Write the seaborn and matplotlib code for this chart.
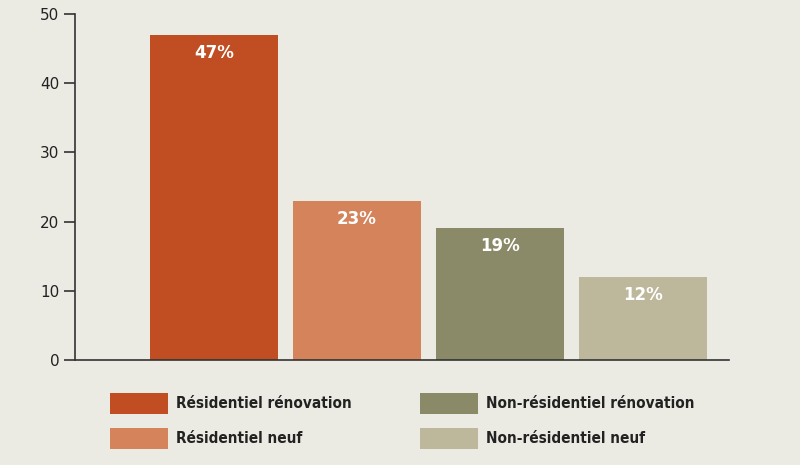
import matplotlib
matplotlib.use("Agg")
import matplotlib.pyplot as plt
import seaborn as sns
import pandas as pd
from matplotlib.patches import Rectangle

categories = ["Résidentiel rénovation", "Résidentiel neuf", "Non-résidentiel rénovation", "Non-résidentiel neuf"]
values = [47, 23, 19, 12]
labels = ["47%", "23%", "19%", "12%"]
colors = ["#c04e22", "#d4835a", "#8b8a68", "#bdb89c"]
bg = "#ecebe3"

df = pd.DataFrame({"cat": categories, "val": values})
fig = plt.figure(figsize=(8, 4.65), dpi=100, facecolor=bg)
ax = fig.add_axes([0.094, 0.226, 0.817, 0.744], facecolor=bg)
sns.barplot(data=df, x="cat", y="val", hue="cat", palette=colors, width=0.895,
            legend=False, ax=ax, saturation=1)
ax.set_xlim(-0.97, 3.6)
ax.set_ylim(0, 50)
ax.set_yticks([0, 10, 20, 30, 40, 50])
ax.set_xticks([])
ax.set_xlabel(""); ax.set_ylabel("")
for s in ["top", "right"]:
    ax.spines[s].set_visible(False)
for s in ["left", "bottom"]:
    ax.spines[s].set_color("#333333")
    ax.spines[s].set_linewidth(1.2)
ax.tick_params(axis="y", direction="out", length=8, width=1.2, colors="#333333",
               labelsize=11, labelcolor="#222222")
for i, (v, l) in enumerate(zip(values, labels)):
    ax.text(i, v - 1.3, l, ha="center", va="top", color="white", fontsize=12, fontweight="bold")

# legend
pos = [(110, 393), (110, 428), (420, 393), (420, 428)]
order = [0, 1, 2, 3]
for (x, y), i in zip(pos, order):
    fig.patches.append(Rectangle((x / 800, 1 - (y + 21) / 465), 58 / 800, 21 / 465,
                                 transform=fig.transFigure, facecolor=colors[i], edgecolor="none"))
    fig.text((x + 66) / 800, 1 - (y + 10.5) / 465, categories[i], va="center", ha="left",
             fontsize=11, fontweight="bold", color="#222222", fontstretch="condensed")
fig.savefig("out.png", facecolor=bg)
